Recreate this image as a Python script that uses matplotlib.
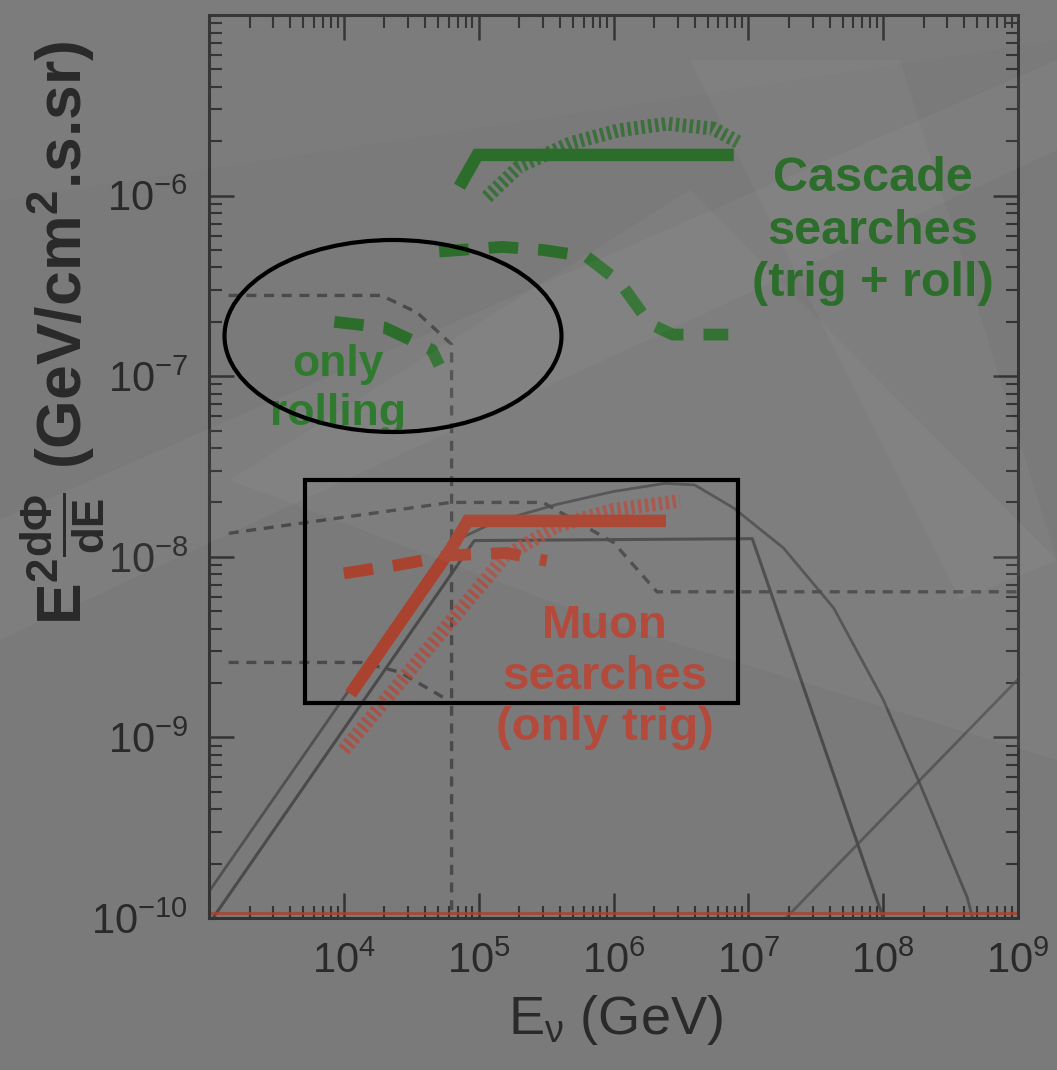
import numpy as np
import matplotlib
matplotlib.use("Agg")
import matplotlib.pyplot as plt
from matplotlib.patches import Ellipse, Rectangle, Polygon

plt.rcParams['font.family'] = ['Liberation Sans', 'DejaVu Sans']
plt.rcParams['mathtext.default'] = 'regular'

# ---------------- data (E in GeV, E^2 dPhi/dE in GeV/cm2/s/sr) ----------------
green_solid_E = [7.2e4, 9.8e4, 7.8e6]
green_solid_F = [1.12e-6, 1.68e-6, 1.68e-6]

green_hatch_E = [1.15e5, 2.0e5, 4.8e5, 1.1e6, 2.5e6, 5.5e6, 8.7e6]
green_hatch_F = [9.8e-7, 1.45e-6, 1.95e-6, 2.3e-6, 2.5e-6, 2.35e-6, 1.95e-6]

green_dash_E = [5.1e4, 1.5e5, 3.0e5, 6.3e5, 1.12e6, 1.86e6, 2.75e6, 7.1e6]
green_dash_F = [4.9e-7, 5.2e-7, 5.0e-7, 4.6e-7, 3.3e-7, 1.95e-7, 1.7e-7, 1.7e-7]

roll_dash_E = [8.5e3, 2.0e4, 4.5e4, 5.1e4]
roll_dash_F = [2.0e-7, 1.86e-7, 1.4e-7, 1.15e-7]

red_solid_E = [1.12e4, 6.2e4, 8.3e4, 2.45e6]
red_solid_F = [1.74e-9, 1.1e-8, 1.58e-8, 1.58e-8]

red_dash_E = [1.0e4, 2.5e4, 6.2e4, 1.6e5, 3.2e5]
red_dash_F = [8.1e-9, 9.0e-9, 1.02e-8, 1.05e-8, 9.5e-9]

red_hatch_E = [1.0e4, 1.55e5, 3.8e5, 1.0e6, 3.1e6]
red_hatch_F = [8.5e-10, 1.0e-8, 1.48e-8, 1.82e-8, 2.04e-8]

red_floor_E = [1e3, 1e9]
red_floor_F = [1.06e-10, 1.06e-10]

gdash_top_E = [1.4e3, 1.9e4, 3.5e4, 6.3e4, 6.3e4]
gdash_top_F = [2.8e-7, 2.8e-7, 2.25e-7, 1.5e-7, 1.0e-10]

gdash_mid_E = [1.4e3, 6.2e4, 3.0e5, 1.0e6, 2.1e6, 1e9]
gdash_mid_F = [1.35e-8, 2.0e-8, 2.0e-8, 1.2e-8, 6.4e-9, 6.4e-9]

gdash_low_E = [1.4e3, 1.35e4, 2.6e4, 5.5e4]
gdash_low_F = [2.6e-9, 2.6e-9, 2.3e-9, 1.66e-9]

gray_box_E = [1.0e3, 9.3e4, 1.07e7, 1.0e8]
gray_box_F = [9.3e-11, 1.23e-8, 1.26e-8, 1.0e-10]

gray_curve_E = [1.0e3, 6.3e4, 1.3e5, 3.8e5, 1.0e6, 2.4e6, 4.0e6, 7.8e6,
                1.82e7, 4.3e7, 1.0e8, 1.86e8, 4.2e8, 4.6e8]
gray_curve_F = [1.4e-10, 1.2e-8, 1.55e-8, 1.95e-8, 2.3e-8, 2.55e-8, 2.5e-8, 1.86e-8,
                1.12e-8, 5.2e-9, 1.62e-9, 5.6e-10, 1.3e-10, 1.0e-10]

gray_rise_E = [1.9e7, 1e9]
gray_rise_F = [1.0e-10, 2.1e-9]

x_lim = [1e3, 1e9]
y_lim = [1e-10, 1e-5]
x_ticks = [1e4, 1e5, 1e6, 1e7, 1e8, 1e9]
y_ticks = [1e-10, 1e-9, 1e-8, 1e-7, 1e-6]

# ---------------- colours ----------------
GREEN = '#2c6d2c'
RED = '#a9432f'
RED_T = '#b34a3c'
GRAY = '#4a4a4a'
BG = '#7a7a7a'

W, H = 1057, 1070
fig = plt.figure(figsize=(W / 100, H / 100), dpi=100, facecolor=BG)

# subtle slide background bands (figure fraction)
def px(pts):
    return [(x / W, 1 - y / H) for x, y in pts]

for pts, a in [
    ([(0, 520), (1057, 60), (1057, 150), (0, 640)], 0.035),
    ([(230, 480), (690, 190), (1057, 560), (1057, 760), (600, 620)], 0.035),
    ([(690, 60), (900, 60), (1057, 560), (960, 600)], 0.03),
    ([(0, 0), (1057, 0), (1057, 40), (0, 200)], 0.02),
]:
    fig.patches.append(Polygon(px(pts), closed=True, transform=fig.transFigure,
                               facecolor='white', alpha=a, edgecolor='none', zorder=0))

ax = fig.add_axes([209 / W, 1 - 918 / H, (1018 - 209) / W, (918 - 15) / H])
ax.set_facecolor('none')
ax.set_xscale('log')
ax.set_yscale('log')
ax.set_xlim(*x_lim)
ax.set_ylim(*y_lim)
ax.set_xticks(x_ticks)
ax.set_yticks(y_ticks)

# gray model curves
ax.plot(gray_box_E, gray_box_F, color=GRAY, lw=2.2)
ax.plot(gray_curve_E, gray_curve_F, color=GRAY, lw=2.0, alpha=0.85)
ax.plot(gray_rise_E, gray_rise_F, color=GRAY, lw=2.0, alpha=0.7)
gdash = (0, (3.0, 2.3))
ax.plot(gdash_top_E, gdash_top_F, color=GRAY, lw=2.4, ls=gdash)
ax.plot(gdash_mid_E, gdash_mid_F, color=GRAY, lw=2.4, ls=gdash)
ax.plot(gdash_low_E, gdash_low_F, color=GRAY, lw=2.4, ls=gdash)

# red (muon) limits
ax.plot(red_floor_E, red_floor_F, color=RED, lw=2.2, alpha=0.8)
ax.plot(red_hatch_E, red_hatch_F, color=RED_T, lw=10, ls=(0, (0.25, 0.25)),
        dash_capstyle='butt', alpha=0.8)
ax.plot(red_solid_E, red_solid_F, color=RED, lw=9, solid_capstyle='butt',
        solid_joinstyle='miter')
ax.plot(red_dash_E, red_dash_F, color=RED, lw=8.5, ls=(0, (2.5, 1.7)),
        dash_capstyle='butt')

# green (cascade) limits
ax.plot(green_hatch_E, green_hatch_F, color=GREEN, lw=10, ls=(0, (0.25, 0.25)),
        dash_capstyle='butt', alpha=0.8)
ax.plot(green_solid_E, green_solid_F, color=GREEN, lw=9, solid_capstyle='butt',
        solid_joinstyle='miter')
ax.plot(green_dash_E, green_dash_F, color=GREEN, lw=8.5, ls=(0, (2.5, 1.7)),
        dash_capstyle='butt')
ax.plot(roll_dash_E, roll_dash_F, color=GREEN, lw=8.5, ls=(0, (2.5, 1.7)),
        dash_capstyle='butt')

# axes styling
for s in ax.spines.values():
    s.set_color('#333333')
    s.set_linewidth(2.2)
ax.tick_params(which='both', direction='in', top=True, right=True, color='#333333')
ax.tick_params(which='major', length=18, width=1.8, labelsize=30, labelcolor='#2a2a2a')
ax.tick_params(which='minor', length=9, width=1.5)
ax.tick_params(axis='x', which='major', pad=17)
ax.tick_params(axis='y', which='major', pad=15)

# axis titles
fig.text(615 / W, 1 - 1020 / H, r'E$_\nu$ (GeV)', fontsize=39, color='#2a2a2a',
         ha='center', va='center')
fig.text(62 / W, 1 - 333 / H, r'$E^2\frac{d\Phi}{dE}$ (GeV/cm$^2$.s.sr)',
         fontweight='bold', fontsize=45, color='#2a2a2a', rotation=90,
         ha='center', va='center')

# annotations
fig.text(873 / W, 1 - 231 / H, 'Cascade\nsearches\n(trig + roll)',
         fontweight='bold', fontsize=35, color=GREEN, ha='center', va='center',
         linespacing=1.22)
fig.text(338 / W, 1 - 389 / H, 'only\nrolling',
         fontweight='bold', fontsize=32, color='#2f7a2f', ha='center', va='center',
         linespacing=1.27)
fig.text(605 / W, 1 - 677 / H, 'Muon\nsearches\n(only trig)',
         fontweight='bold', fontsize=34, color=RED_T, ha='center', va='center',
         linespacing=1.2)

fig.patches.append(Ellipse((393 / W, 1 - 336 / H), 337 / W, 192 / H,
                           transform=fig.transFigure, fill=False,
                           edgecolor='black', lw=3.0, zorder=10))
fig.patches.append(Rectangle((305 / W, 1 - 703 / H), (738 - 305) / W, (703 - 480) / H,
                             transform=fig.transFigure, fill=False,
                             edgecolor='black', lw=3.0, zorder=10))

fig.savefig('out.png', dpi=100, facecolor=BG)
